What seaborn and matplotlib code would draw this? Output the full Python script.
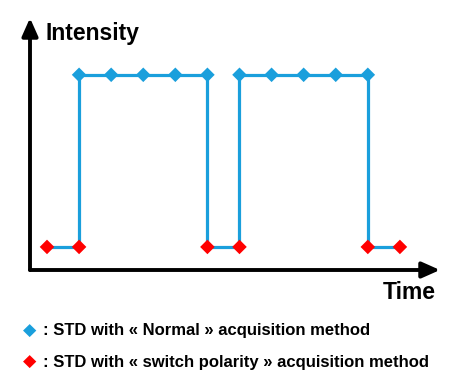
import pandas as pd
import seaborn as sns
import matplotlib.pyplot as plt

sns.set_theme(style='white')
plt.rcParams['font.family'] = ['Liberation Sans', 'DejaVu Sans']
plt.rcParams['text.color'] = 'black'

# signal path (time step, level 0 = low / 1 = high)
path_t = [0, 1, 1, 5, 5, 6, 6, 10, 10, 11]
path_level = [0, 0, 1, 1, 0, 0, 1, 1, 0, 0]

# standards measured with each method
normal_t = [1, 2, 3, 4, 5, 6, 7, 8, 9, 10]
normal_level = [1, 1, 1, 1, 1, 1, 1, 1, 1, 1]
switch_t = [0, 1, 5, 6, 10, 11]
switch_level = [0, 0, 0, 0, 0, 0]

methods = ['Normal', 'switch polarity']
colors = {'Normal': '#1a9fdc', 'switch polarity': '#ff0000'}
legend_labels = [': STD with « Normal » acquisition method',
                 ': STD with « switch polarity » acquisition method']

path = pd.DataFrame({'time': path_t, 'level': path_level})
pts = pd.concat([
    pd.DataFrame({'time': normal_t, 'level': normal_level, 'method': 'Normal'}),
    pd.DataFrame({'time': switch_t, 'level': switch_level, 'method': 'switch polarity'}),
])

fig = plt.figure(figsize=(4.55, 3.78), dpi=100)
ax = fig.add_axes([30/455, 108/378, 410/455, 252/378])

sns.lineplot(data=path, x='time', y='level', sort=False, estimator=None,
             color=colors['Normal'], linewidth=2.3, ax=ax)
sns.scatterplot(data=pts, x='time', y='level', hue='method', palette=colors,
                marker='D', s=55, linewidth=0, legend=False, ax=ax, zorder=3)

ax.set_xlim(-0.53, 12.25)
ax.set_ylim(-0.134, 1.33)
ax.set_xticks([])
ax.set_yticks([])
ax.set_xlabel('')
ax.set_ylabel('')
for s in ax.spines.values():
    s.set_visible(False)

arrow = dict(arrowstyle='-|>,head_length=0.9,head_width=0.4', color='black', lw=2.8,
             shrinkA=0, shrinkB=0)
ax.annotate('', xy=(0, 1.0), xytext=(0, 0), xycoords='axes fraction', arrowprops=arrow)
ax.annotate('', xy=(1.0, 0), xytext=(0, 0), xycoords='axes fraction', arrowprops=arrow)

ax.text(0.038, 0.94, 'Intensity', transform=ax.transAxes, fontsize=16.5,
        fontweight='bold', va='center', ha='left')
ax.text(0.99, -0.09, 'Time', transform=ax.transAxes, fontsize=16.5,
        fontweight='bold', va='center', ha='right')

# custom legend under the chart
for i, m in enumerate(methods):
    y = 1 - (331 + 31 * i) / 378
    fig.text(30/455, y, '◆', color=colors[m], fontsize=12.5, ha='center', va='center',
             family=['DejaVu Sans'])
    fig.text(43/455, y, legend_labels[i], fontsize=12, fontweight='bold',
             ha='left', va='center')

fig.savefig('out.png', dpi=100)
